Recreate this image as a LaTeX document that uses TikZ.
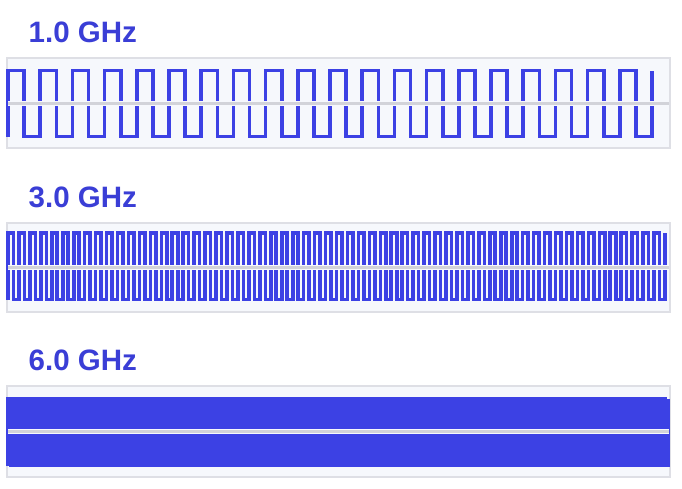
\documentclass[tikz,border=0pt]{standalone}
\usepackage{fontspec}
\setmainfont{Liberation Sans}
\definecolor{wblue}{HTML}{3C41E4}
\definecolor{tblue}{HTML}{3A3ED6}
\definecolor{boxfill}{HTML}{F6F8FC}
\definecolor{boxline}{HTML}{DEDFE5}
\definecolor{midgray}{HTML}{D2D3D9}
\tikzset{
  panelbox/.style={fill=boxfill, draw=boxline, line width=2pt},
  wave/.style={draw=wblue, line width=3.6pt, line join=miter, line cap=butt},
  midhalo/.style={draw=boxfill, line width=5pt},
  midline/.style={draw=midgray, line width=2.8pt},
  freqlabel/.style={anchor=base west, inner sep=0pt, text=tblue, font=\fontsize{29.5pt}{31pt}\selectfont\bfseries}
}
\begin{document}
\begin{tikzpicture}[x=1pt, y=-1pt]
\useasboundingbox (0,0) rectangle (682,488);
\fill[white] (0,0) rectangle (682,488);
% ---- 1.0 GHz ----
\node[freqlabel] (l1) at (28.5,42) {1.0 GHz};
\draw[panelbox] (7,58) rectangle (670,148);
\draw[wave] (8,136.5) \foreach \k in {1,...,20} { -- ++(0,-66) -- ++(16.1,0) -- ++(0,66) -- ++(16.1,0) } -- ++(0,-66);
\draw[midhalo] (8,103.5) -- (669,103.5);
\draw[midline] (8,103.5) -- (669,103.5);
% ---- 3.0 GHz ----
\node[freqlabel] (l2) at (28.5,207) {3.0 GHz};
\draw[panelbox] (7,223) rectangle (670,312);
\draw[wave] (8,299.5) \foreach \k in {1,...,60} { -- ++(0,-66.5) -- ++(5.475,0) -- ++(0,66.5) -- ++(5.475,0) } -- ++(0,-66.5);
\draw[midhalo] (8,267.5) -- (669,267.5);
\draw[midline] (8,267.5) -- (669,267.5);
% ---- 6.0 GHz ----
\node[freqlabel] (l3) at (28.5,370) {6.0 GHz};
\draw[panelbox] (7,386) rectangle (670,477);
\draw[wave] (8,465.5) \foreach \k in {1,...,120} { -- ++(0,-67) -- ++(2.75,0) -- ++(0,67) -- ++(2.75,0) } -- ++(0,-67);
\draw[midhalo] (8,431.5) -- (669,431.5);
\draw[midline] (8,431.5) -- (669,431.5);
\end{tikzpicture}
\end{document}
